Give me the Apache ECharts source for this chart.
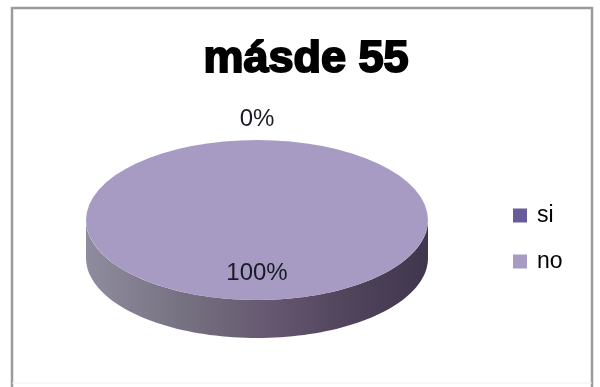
<!DOCTYPE html>
<html>
<head>
<meta charset="utf-8">
<style>html,body{margin:0;padding:0;background:#fff}#c{width:600px;height:387px}</style>
<script src="https://cdn.jsdelivr.net/npm/echarts@6/dist/echarts.min.js"></script>
</head>
<body>
<div id="c"></div>
<script>
const categories = ['si', 'no'];
const values = [0, 100];
const titleText = 'másde 55';

const colors = ['#675c99', '#a79bc3'];
const CX = 257, CY = 220, RX = 171, RY = 80, DEPTH = 38;
const total = values.reduce((a, b) => a + b, 0);
const chart = echarts.init(document.getElementById('c'));

function renderSlice(index) {
  return function (params, api) {
    const v = api.value(0);
    const before = values.slice(0, index).reduce((a, b) => a + b, 0);
    const start = -Math.PI / 2 + before / total * Math.PI * 2;
    const end = start + v / total * Math.PI * 2;
    const pct = Math.round(v / total * 100) + '%';
    const children = [];
    if (v > 0) {
      const pts = [];
      for (let d = 0; d <= 180; d += 2) {
        const a = d * Math.PI / 180;
        pts.push([CX + RX * Math.cos(a), CY + RY * Math.sin(a)]);
      }
      for (let d = 180; d >= 0; d -= 2) {
        const a = d * Math.PI / 180;
        pts.push([CX + RX * Math.cos(a), CY + DEPTH + RY * Math.sin(a)]);
      }
      children.push({
        type: 'polygon',
        shape: { points: pts },
        style: {
          fill: new echarts.graphic.LinearGradient(0, 0, 1, 0, [
            { offset: 0, color: '#8f8c9f' },
            { offset: 0.3, color: '#75707f' },
            { offset: 0.55, color: '#64566f' },
            { offset: 0.8, color: '#4d4259' },
            { offset: 1, color: '#40364e' }
          ])
        }
      });
      children.push({
        type: 'sector',
        x: CX, y: CY, scaleY: RY / RX,
        shape: { cx: 0, cy: 0, r0: 0, r: RX, startAngle: start, endAngle: end, clockwise: true },
        style: { fill: api.visual('color') }
      });
    }
    const labelY = v > 0 ? CY + 53 : CY - 101;
    children.push({
      type: 'text',
      x: CX, y: labelY,
      z2: 10,
      style: { text: pct, fill: '#1a1a26', font: '24px "Liberation Sans"', align: 'center', verticalAlign: 'middle' }
    });
    return { type: 'group', children };
  };
}

chart.setOption({
  animation: false,
  backgroundColor: '#ffffff',
  title: {
    text: titleText,
    left: 301, top: 32, textAlign: 'center',
    textStyle: {
      fontFamily: 'Liberation Sans', fontWeight: 'bold', fontSize: 45, color: '#000',
      textBorderColor: '#000', textBorderWidth: 2, letterSpacing: -3
    }
  },
  legend: {
    orient: 'vertical',
    left: 508, top: 199,
    itemWidth: 14, itemHeight: 14, itemGap: 23,
    icon: 'rect',
    data: categories,
    textStyle: { fontFamily: 'Liberation Sans', fontSize: 23, color: '#000', padding: [0, 0, 0, 5], letterSpacing: -0.5 }
  },
  graphic: [
    { type: 'polyline', silent: true, z: -1,
      shape: { points: [[12, 387], [12, 8], [592, 8], [592, 387]] },
      style: { stroke: '#9b9b9b', lineWidth: 2.5, fill: null } },
    { type: 'line', silent: true, z: -1,
      shape: { x1: 12, y1: 383, x2: 592, y2: 383 },
      style: { stroke: '#efefef', lineWidth: 1 } }
  ],
  series: categories.map((name, i) => ({
    type: 'custom',
    name,
    coordinateSystem: 'none',
    itemStyle: { color: colors[i] },
    renderItem: renderSlice(i),
    data: [[values[i]]]
  }))
});
</script>
</body>
</html>
